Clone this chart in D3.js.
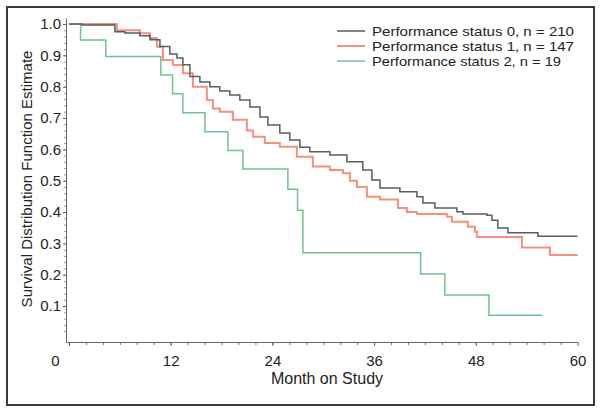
<!DOCTYPE html>
<html><head><meta charset="utf-8">
<script src="https://cdn.jsdelivr.net/npm/d3@7"></script>
<style>
body{margin:0;background:#fff}
text{font-family:Arial,"Liberation Sans",Helvetica,sans-serif;fill:#222}
</style>
</head><body>
<svg id="c" width="602" height="413"></svg>
<script>
// ---- data ----
const seriesLabels = ["Performance status 0, n = 210", "Performance status 1, n = 147", "Performance status 2, n = 19"];
const seriesColors = ["#555e62", "#f4917c", "#6ec48c"];

const ps0Months = [0, 1.52, 5.42, 6.6, 8.37, 9.55, 10.73, 11.9, 12.74, 13.44, 14.27, 15.45, 16.62, 17.8, 18.98, 20.16, 21.35, 22.53, 23.47, 24.88, 26.06, 27.24, 28.42, 30.78, 32.79, 34.67, 35.74, 36.69, 39.04, 41.05, 41.76, 43.18, 45.77, 46.48, 49.31, 49.9, 50.6, 51.79, 55.33, 60];
const ps0Surv   = [1.0, 0.997, 0.975, 0.971, 0.962, 0.950, 0.928, 0.904, 0.891, 0.870, 0.832, 0.815, 0.800, 0.786, 0.773, 0.757, 0.735, 0.703, 0.678, 0.652, 0.630, 0.607, 0.592, 0.582, 0.560, 0.534, 0.502, 0.477, 0.465, 0.449, 0.429, 0.413, 0.401, 0.394, 0.390, 0.374, 0.349, 0.334, 0.323, 0.323];

const ps1Months = [0, 5.65, 8.37, 9.55, 10.38, 11.08, 12.26, 13.44, 14.62, 16.27, 16.98, 17.8, 19.34, 20.99, 21.7, 23.11, 24.88, 26.89, 28.78, 30.78, 32.32, 33.14, 33.97, 35.15, 36.69, 38.81, 39.87, 41.05, 44.59, 45.18, 47.07, 47.9, 48.13, 53.44, 56.75, 60];
const ps1Surv   = [1.0, 0.98, 0.97, 0.955, 0.927, 0.885, 0.869, 0.843, 0.80, 0.757, 0.73, 0.72, 0.694, 0.66, 0.64, 0.62, 0.608, 0.576, 0.545, 0.534, 0.524, 0.50, 0.48, 0.449, 0.44, 0.413, 0.40, 0.394, 0.385, 0.369, 0.353, 0.337, 0.32, 0.287, 0.263, 0.263];

const ps2Months = [0, 1.37, 4.35, 10.84, 12.22, 13.44, 16.04, 18.75, 20.52, 25.83, 26.97, 27.60, 41.49, 44.35, 49.55, 55.88];
const ps2Surv   = [1.0, 0.949, 0.896, 0.837, 0.777, 0.717, 0.656, 0.596, 0.537, 0.473, 0.406, 0.270, 0.202, 0.135, 0.071, 0.071];

const xTicks = [0, 12, 24, 36, 48, 60];
const yTicks = [0.1, 0.2, 0.3, 0.4, 0.5, 0.6, 0.7, 0.8, 0.9, 1.0];
const xTitle = "Month on Study";
const yTitle = "Survival Distribution Function Estimate";

// ---- drawing ----
const svg = d3.select("#c");
svg.append("rect").attr("x", 7).attr("y", 7).attr("width", 587).attr("height", 398)
  .attr("fill", "#fff").attr("stroke", "#3a3a3a").attr("stroke-width", 2);

const x = d3.scaleLinear().domain([-0.35, 60]).range([66, 577.5]);
const y = d3.scaleLinear().domain([-0.0147, 1.019]).range([342, 18]);

// minor ticks
svg.append("g").attr("transform", "translate(0,342)")
  .call(d3.axisBottom(x).tickValues(d3.range(2, 60, 2)).tickFormat("").tickSize(3).tickSizeOuter(0))
  .call(g => g.select(".domain").remove())
  .call(g => g.selectAll("line").attr("stroke", "#777"));
svg.append("g").attr("transform", "translate(66,0)")
  .call(d3.axisLeft(y).tickValues(d3.range(0.02, 1.0, 0.02)).tickFormat("").tickSize(2).tickSizeOuter(0))
  .call(g => g.select(".domain").remove())
  .call(g => g.selectAll("line").attr("stroke", "#999"));

// major axes
const xAxis = svg.append("g").attr("transform", "translate(0,342)")
  .call(d3.axisBottom(x).tickValues(xTicks).tickFormat(d3.format("d")).tickSize(4).tickSizeOuter(0));
xAxis.select(".domain").attr("stroke", "#666");
xAxis.selectAll("line").attr("stroke", "#666");
xAxis.selectAll("text").attr("font-size", 15).attr("y", 13).attr("dy", "0.71em")
  .attr("x", d => d === 0 ? -14 : 0);

const yAxis = svg.append("g").attr("transform", "translate(66,0)")
  .call(d3.axisLeft(y).tickValues(yTicks).tickFormat(d3.format(".1f")).tickSize(3).tickSizeOuter(0));
yAxis.select(".domain").attr("stroke", "#666");
yAxis.selectAll("line").attr("stroke", "#666");
yAxis.selectAll("text").attr("font-size", 15).attr("x", -5);
svg.selectAll(".tick text").attr("fill", "#222").attr("font-family", "Arial, 'Liberation Sans', sans-serif");

// titles
svg.append("text").attr("x", 327).attr("y", 384).attr("text-anchor", "middle")
  .attr("font-size", 16).text(xTitle);
svg.append("text").attr("transform", "translate(32,179) rotate(-90)").attr("text-anchor", "middle")
  .attr("font-size", 15).text(yTitle);

// curves
const line = d3.line().x(d => x(d[0])).y(d => y(d[1])).curve(d3.curveStepAfter);
const series = [
  {m: ps0Months, s: ps0Surv, w: 1.5},
  {m: ps1Months, s: ps1Surv, w: 2},
  {m: ps2Months, s: ps2Surv, w: 1.5}
];
[2, 1, 0].forEach(i => {
  const sr = series[i];
  svg.append("path").datum(sr.m.map((mm, k) => [mm, sr.s[k]]))
    .attr("d", line).attr("fill", "none").attr("stroke", seriesColors[i])
    .attr("stroke-width", sr.w).attr("stroke-linejoin", "miter");
});

// legend
const lg = svg.append("g");
seriesLabels.forEach((lab, i) => {
  const cy = 31 + i * 15;
  lg.append("line").attr("x1", 337).attr("x2", 365).attr("y1", cy).attr("y2", cy)
    .attr("stroke", seriesColors[i]).attr("stroke-width", i === 1 ? 2 : 1.5);
  lg.append("text").attr("x", 372).attr("y", cy + 4.8).attr("font-size", 13)
    .attr("textLength", i === 2 ? 189 : 202).attr("lengthAdjust", "spacingAndGlyphs").text(lab);
});
</script>
</body></html>
